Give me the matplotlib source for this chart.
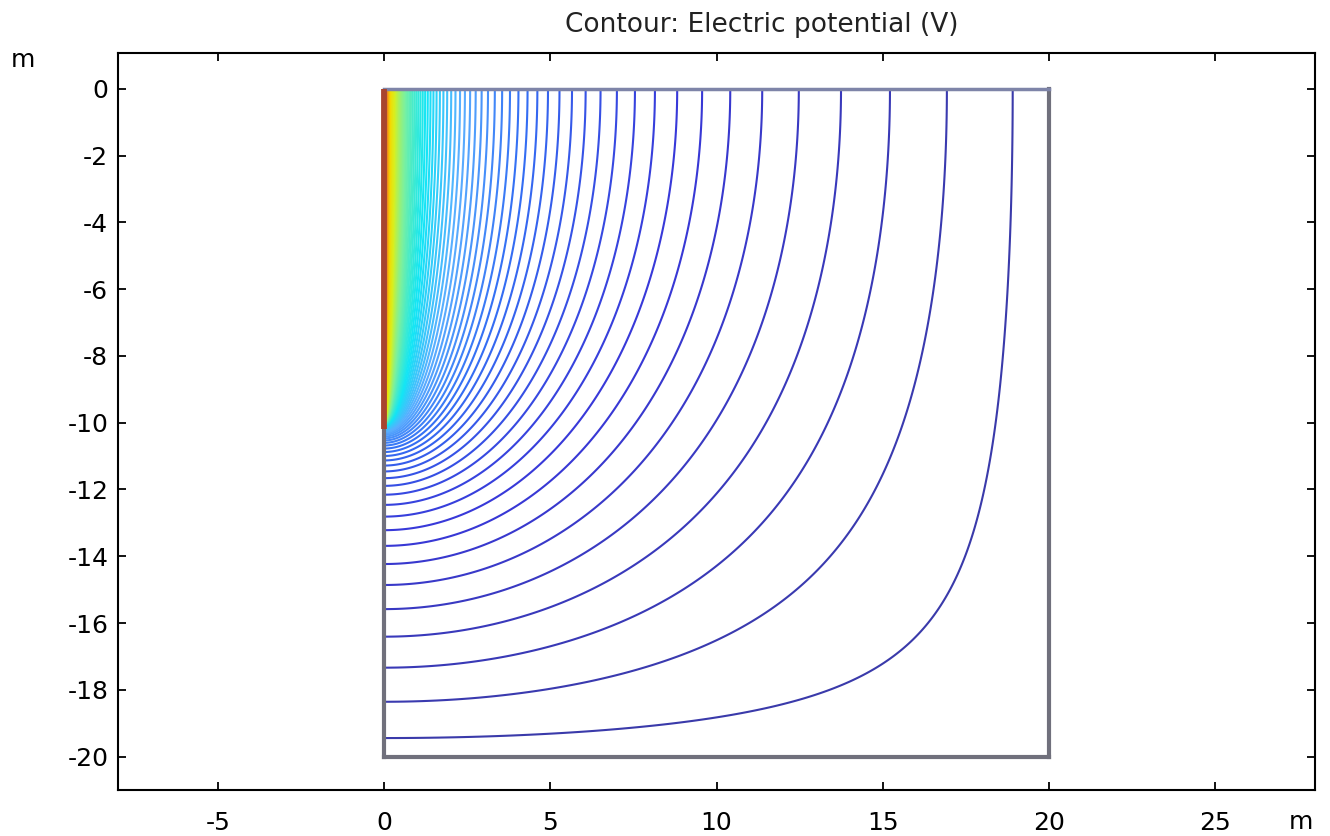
import numpy as np
import matplotlib
matplotlib.use("Agg")
import matplotlib.pyplot as plt
from matplotlib.colors import LinearSegmentedColormap

# ---------------- chart content ----------------
title = "Contour: Electric potential (V)"
unit_label = "m"
x_ticks = [-5, 0, 5, 10, 15, 20, 25]
y_ticks = [0, -2, -4, -6, -8, -10, -12, -14, -16, -18, -20]
x_limits = [-8, 28]
y_limits = [-21, 1.07]

# model geometry (axisymmetric rod electrode in a box)
domain_width = 20.0       # m
domain_depth = 20.0       # m
electrode_length = 10.0   # m
electrode_radius = 0.03   # m
n_levels = 100

cmap_colors = ["#3a3aa8", "#3838d8", "#3470f4", "#5aaeff", "#12e6f6",
               "#7af0a0", "#d8f020", "#f6d800", "#f08020", "#b03020"]
cmap_pos = [0.0, 0.08, 0.19, 0.28, 0.38, 0.50, 0.62, 0.72, 0.86, 1.0]

plt.rcParams["axes.unicode_minus"] = False
plt.rcParams["font.family"] = ["DejaVu Sans"]


def line_pot(r, y):
    L = electrode_length
    rho = np.sqrt(r ** 2 + electrode_radius ** 2)
    return np.arcsinh((L - y) / rho) + np.arcsinh((L + y) / rho)


# correction field so that V = 0 on outer boundaries (axisymmetric Laplace, SOR)
h = 0.25
rc = np.arange(0, domain_width + h / 2, h)
yc = np.arange(-domain_depth, h / 2, h)
nx, ny = len(rc), len(yc)
W = np.full((ny, nx), -1.0)
W[:, -1] = -line_pot(domain_width, yc)
W[0, :] = -line_pot(rc, -domain_depth)
J, I = np.meshgrid(np.arange(ny), np.arange(nx), indexing="ij")
upd = (J >= 1) & (I <= nx - 2)
red = upd & ((I + J) % 2 == 0)
black = upd & ((I + J) % 2 == 1)
Ipos = np.maximum(I, 1).astype(float)
cp = 1 + 1 / (2 * Ipos)
cm = 1 - 1 / (2 * Ipos)
omega = 1.9
Nn = np.empty_like(W); Sn = np.zeros_like(W); En = np.zeros_like(W); Wn = np.zeros_like(W)
for it in range(2500):
    for mask in (red, black):
        Nn[:-1] = W[1:]; Nn[-1] = W[-2]
        Sn[1:] = W[:-1]
        En[:, :-1] = W[:, 1:]
        Wn[:, 1:] = W[:, :-1]
        gs = np.where(I == 0, (4 * En + Nn + Sn) / 6.0, (cp * En + cm * Wn + Nn + Sn) / 4.0)
        W[mask] += omega * (gs[mask] - W[mask])

xf = np.unique(np.concatenate([[0.0], np.geomspace(1e-3, 1.5, 300), np.linspace(1.5, domain_width, 550)]))
yf = np.linspace(-domain_depth, 0, 1101)
Wx = np.array([np.interp(xf, rc, row) for row in W])
Wf = np.array([np.interp(yf, yc, Wx[:, k]) for k in range(len(xf))]).T
X, Y = np.meshgrid(xf, yf)
V = line_pot(X, Y) + Wf
V = V / V.max()

levels = (np.arange(n_levels) + 0.5) / n_levels
cmap = LinearSegmentedColormap.from_list("comsol", list(zip(cmap_pos, cmap_colors)))

fig = plt.figure(figsize=(13.3, 8.36), dpi=100)
ax = fig.add_axes([118 / 1330, 1 - 790 / 836, (1315 - 118) / 1330, (790 - 53) / 836])
ax.contour(X, Y, V, levels=levels, cmap=cmap, vmin=0, vmax=1, linewidths=1.5)

border = "#70707c"
ax.plot([0, 0], [-electrode_length - 0.2, -domain_depth], color=border, lw=3, solid_capstyle="projecting")
ax.plot([0, domain_width], [-domain_depth, -domain_depth], color=border, lw=3, solid_capstyle="projecting")
ax.plot([domain_width, domain_width], [-domain_depth, 0], color=border, lw=3, solid_capstyle="projecting")
ax.plot([0, domain_width], [0, 0], color="#7e84a8", lw=2.5, solid_capstyle="projecting")
ax.plot([0, 0], [0, -electrode_length - 0.2], color="#a8452f", lw=4.2, solid_capstyle="butt")

ax.set_xlim(x_limits)
ax.set_ylim(y_limits)
ax.set_xticks(x_ticks)
ax.set_yticks(y_ticks)
ax.tick_params(direction="in", length=6, width=1.3, top=True, right=True, labelsize=18)
ax.tick_params(axis="x", pad=15)
ax.tick_params(axis="y", pad=7)
for s in ax.spines.values():
    s.set_linewidth(1.5)

fig.text(762 / 1330, 1 - 25 / 836, title, ha="center", va="center", fontsize=19, color="#222222")
fig.text(23 / 1330, 1 - 60 / 836, unit_label, ha="center", va="center", fontsize=18)
fig.text(1301 / 1330, 1 - 822 / 836, unit_label, ha="center", va="center", fontsize=18)

fig.savefig("out.png", dpi=100)
